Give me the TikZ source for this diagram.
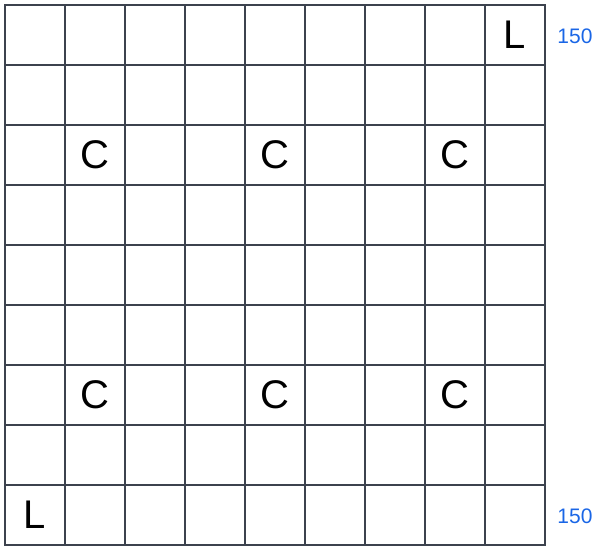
\documentclass[tikz,border=0pt]{standalone}
\usepackage{fontspec}
\setmainfont{Liberation Sans}
\definecolor{gridline}{RGB}{60,66,78}
\definecolor{labelblue}{RGB}{26,102,230}
\begin{document}
\begin{tikzpicture}[x=1pt,y=-1pt,
  cellbox/.style={draw=gridline,line width=1.4pt,minimum size=60pt,inner sep=0pt,anchor=center,font=\fontsize{40}{40}\selectfont},
  sidelabel/.style={text=labelblue,font=\fontsize{21}{21}\selectfont,inner sep=0pt}]
\useasboundingbox (0,0) rectangle (600,546);
\foreach \r in {0,...,8}{
  \foreach \c in {0,...,8}{
    \node[cellbox] (cell-\r-\c) at ({35+60*\c},{35+60*\r}) {};
  }
}
\node[font=\fontsize{40}{40}\selectfont] (l1) at (cell-0-8) {L};
\node[font=\fontsize{40}{40}\selectfont] (l2) at (cell-8-0) {L};
\foreach \r in {2,6}{
  \foreach \c in {1,4,7}{
    \node[font=\fontsize{40}{40}\selectfont] (c-\r-\c) at (cell-\r-\c) {C};
  }
}
\node[sidelabel] (top150) at (575,36) {150};
\node[sidelabel] (bot150) at (575,516) {150};
\end{tikzpicture}
\end{document}
